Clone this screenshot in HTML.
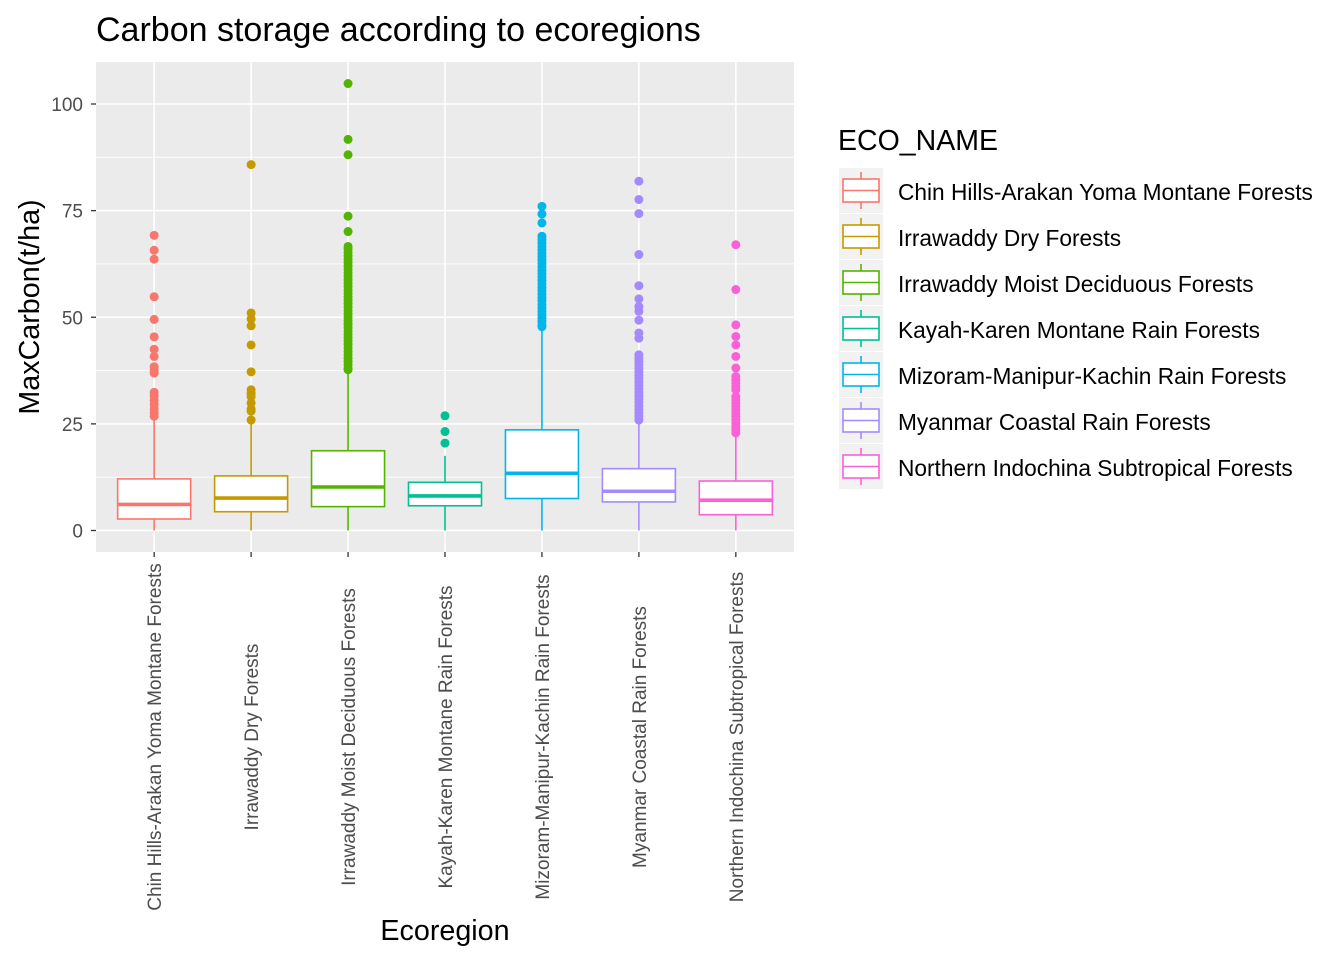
<!DOCTYPE html>
<html><head><meta charset="utf-8"><style>
body{margin:0;background:#fff;font-family:"Liberation Sans",sans-serif;}
svg text{font-family:"Liberation Sans",sans-serif;}
</style></head><body>
<svg id="chart" width="1344" height="960" xmlns="http://www.w3.org/2000/svg">
<rect width="1344" height="960" fill="#fff"/>
<text x="96" y="41" font-size="34" fill="#000">Carbon storage according to ecoregions</text>
<rect x="96" y="62" width="698" height="490" fill="#ebebeb"/>
<g id="grid"></g><g id="boxes"></g><g id="axes"></g>
<text transform="translate(39,307) rotate(-90)" text-anchor="middle" font-size="28.7" fill="#000">MaxCarbon(t/ha)</text>
<text x="445" y="940" text-anchor="middle" font-size="28.7" fill="#000">Ecoregion</text>
<text x="838" y="150" font-size="28.5" fill="#000">ECO_NAME</text>
<g id="legend"></g>
</svg>
<script>
const categories=["Chin Hills-Arakan Yoma Montane Forests","Irrawaddy Dry Forests","Irrawaddy Moist Deciduous Forests","Kayah-Karen Montane Rain Forests","Mizoram-Manipur-Kachin Rain Forests","Myanmar Coastal Rain Forests","Northern Indochina Subtropical Forests"];
const colors=["#F8766D","#C49A00","#53B400","#00C094","#00B6EB","#A58AFF","#FB61D7"];
const lowerWhisker=[0,0,0,0,0,0,0];
const q1=[2.7,4.4,5.6,5.8,7.5,6.7,3.7];
const median=[6.1,7.6,10.2,8.1,13.4,9.2,7.1];
const q3=[12.1,12.8,18.7,11.3,23.6,14.5,11.6];
const upperWhisker=[26.3,25.2,37.3,17.5,47.1,25.5,22.8];
const outliers=[
[69.2,65.7,63.6,54.8,49.5,45.4,42.5,40.8,38.4,37.6,36.9,32.4,31.5,30.5,29.5,28.5,27.6,26.8],
[85.8,51,49.6,48,43.5,37.2,33,32.2,31.4,29.9,28.5,28,25.9],
[104.8,91.7,88.1,73.7,70.1,66.6,66,65.2,64.4,63.6,62.8,62,61.2,60.4,59.6,58.8,58,57.2,56.4,55.6,54.8,54,53.2,52.4,51.6,50.8,50,49.2,48.4,47.6,46.8,46,45.2,44.4,43.6,42.8,42,41.2,40.4,39.6,38.8,38,37.7],
[26.9,23.2,20.5],
[76,74.2,72.1,69,68.2,67.4,66.6,65.8,65,64.2,63.4,62.6,61.8,61,60.2,59.4,58.6,57.8,57,56.2,55.4,54.6,53.8,53,52.2,51.4,50.6,49.8,49,48.2,47.8],
[81.9,77.6,74.3,64.7,57.4,54.3,52.5,51.4,49.3,46.3,45.1,41.2,40.4,39.6,38.8,38,37.2,36.4,35.6,34.8,34,33.2,32.4,31.6,30.8,30,29.2,28.4,27.6,26.8,25.9],
[67,56.5,48.2,45.5,43.5,40.8,38.1,36.1,35.3,34.5,33.7,33,31.4,30.6,29.9,29.1,28.3,27.5,26.7,25.9,25.1,24.3,23.6,22.9]
];
const yTicks=[0,25,50,75,100];
const yMinor=[12.5,37.5,62.5,87.5];
const NS="http://www.w3.org/2000/svg";
function el(t,a,p){const e=document.createElementNS(NS,t);for(const k in a)e.setAttribute(k,a[k]);p.appendChild(e);return e;}
const panelL=96,panelR=794,panelT=62,panelB=552;
const xStep=(panelR-panelL)/(categories.length+0.2);
function xScale(i){return panelL+(i+0.6)*xStep;}
function yScale(v){return 530.5-v*4.265;}
const grid=document.getElementById('grid'),boxes=document.getElementById('boxes'),axes=document.getElementById('axes'),legend=document.getElementById('legend');
yMinor.forEach(v=>{const l=el('line',{x1:panelL,x2:panelR,y1:yScale(v),y2:yScale(v),stroke:'#fff','stroke-width':0.8},grid);

});
yTicks.forEach(v=>{const y=yScale(v);
const l=el('line',{x1:panelL,x2:panelR,y1:y,y2:y,stroke:'#fff','stroke-width':1.6},grid);


const tk=el('line',{x1:91,x2:96,y1:y,y2:y,stroke:'#333','stroke-width':1.3},axes);


const t=el('text',{x:83,y:y+7,'text-anchor':'end','font-size':19,fill:'#4d4d4d'},axes);t.textContent=v;

});
categories.forEach((c,i)=>{const x=xScale(i);
const g=el('line',{x1:x,x2:x,y1:panelT,y2:panelB,stroke:'#fff','stroke-width':1.6},grid);


const tk=el('line',{x1:x,x2:x,y1:panelB,y2:panelB+5,stroke:'#333','stroke-width':1.3},axes);


const t=el('text',{transform:`translate(${x+7},737) rotate(-90)`,'text-anchor':'middle','font-size':19,fill:'#4d4d4d'},axes);t.textContent=c;


const col=colors[i],hw=36.5;
const grp=el('g',{},boxes);


el('line',{x1:x,x2:x,y1:yScale(lowerWhisker[i]),y2:yScale(q1[i]),stroke:col,'stroke-width':1.6},grp);
el('line',{x1:x,x2:x,y1:yScale(q3[i]),y2:yScale(upperWhisker[i]),stroke:col,'stroke-width':1.6},grp);
el('rect',{x:x-hw,y:yScale(q3[i]),width:2*hw,height:yScale(q1[i])-yScale(q3[i]),fill:'#fff',stroke:col,'stroke-width':1.6},grp);
el('line',{x1:x-hw,x2:x+hw,y1:yScale(median[i]),y2:yScale(median[i]),stroke:col,'stroke-width':3.6},grp);
outliers[i].forEach(v=>{const p=el('circle',{cx:x,cy:yScale(v),r:4.5,fill:col},grp);

});
const ky=168+i*46;
const lg=el('g',{},legend);


el('rect',{x:839,y:ky,width:44,height:45,fill:'#f2f2f2'},lg);
el('line',{x1:861,x2:861,y1:ky+4,y2:ky+41,stroke:col,'stroke-width':1.6},lg);
el('rect',{x:843,y:ky+11,width:36,height:23,fill:'#fff',stroke:col,'stroke-width':1.6},lg);
el('line',{x1:843,x2:879,y1:ky+22.5,y2:ky+22.5,stroke:col,'stroke-width':1.6},lg);
const lt=el('text',{x:898,y:ky+32,'font-size':22.7,fill:'#000'},lg);lt.textContent=c;
});
</script>
</body></html>
